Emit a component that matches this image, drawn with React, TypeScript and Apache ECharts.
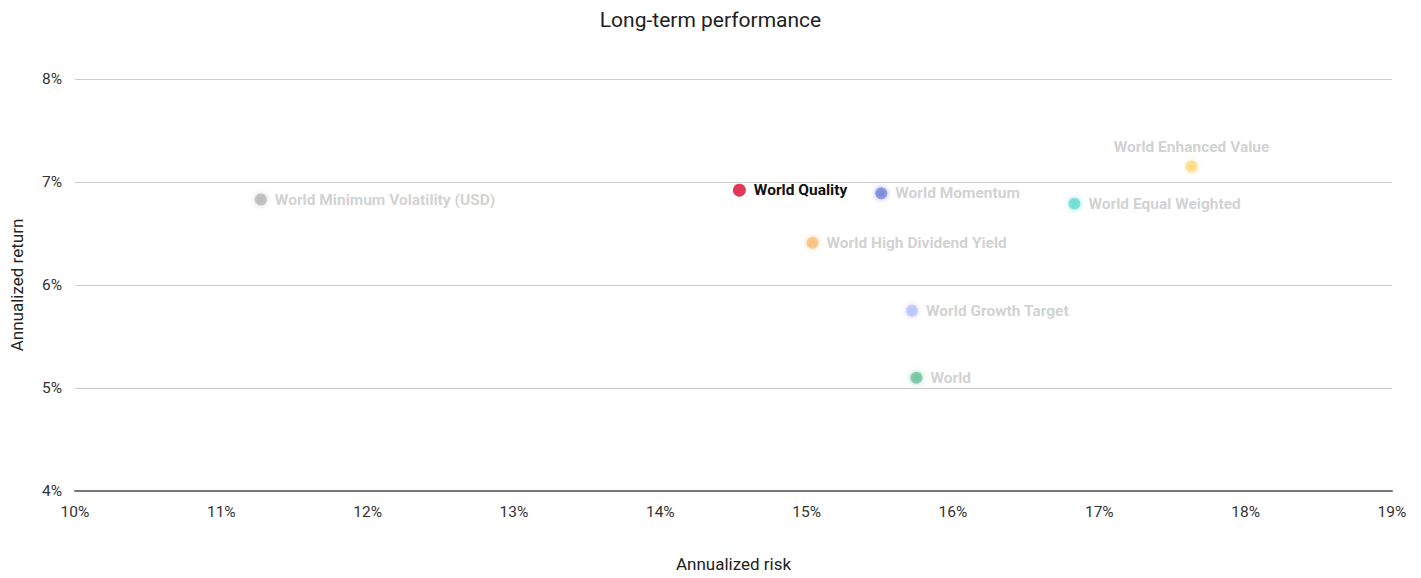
import React, { useEffect, useRef } from "react";
import * as echarts from "echarts";

// Index names, annualized risk (%) and annualized return (%)
const names = [
  "World Minimum Volatility (USD)",
  "World Quality",
  "World Momentum",
  "World Equal Weighted",
  "World Enhanced Value",
  "World High Dividend Yield",
  "World Growth Target",
  "World",
];
const risk = [11.27, 14.54, 15.51, 16.83, 17.63, 15.04, 15.72, 15.75];
const ret = [6.83, 6.92, 6.89, 6.79, 7.15, 6.41, 5.75, 5.10];
const colors = [
  "#a8a8a8",
  "#e2395a",
  "#5a6cd0",
  "#48d6c8",
  "#ffd36a",
  "#f7b05c",
  "#a7b4ff",
  "#4fb586",
];
const highlighted = "World Quality";
const labelAbove = ["World Enhanced Value"];

const xTicks = [10, 11, 12, 13, 14, 15, 16, 17, 18, 19];
const yTicks = [4, 5, 6, 7, 8];

export default function App() {
  const ref = useRef<HTMLDivElement>(null);

  useEffect(() => {
    document.body.style.margin = "0";
    if (!ref.current) return;
    const chart = echarts.init(ref.current, undefined, { renderer: "svg" });

    const data = names.map((name, i) => {
      const active = name === highlighted;
      const above = labelAbove.includes(name);
      return {
        name,
        value: [risk[i], ret[i]],
        symbolSize: active ? 13 : 12,
        itemStyle: {
          color: colors[i],
          opacity: active ? 1 : 0.55,
          shadowBlur: active ? 0 : 5,
          shadowColor: colors[i],
        },
        label: {
          show: true,
          position: above ? "top" : "right",
          distance: above ? 6 : 8,
          formatter: name,
          color: active ? "#111111" : "#ababab",
          fontWeight: "bold",
          fontSize: 15.5,
          fontFamily: "Roboto",
        },
      };
    });

    chart.setOption({
      animation: false,
      textStyle: { fontFamily: "Roboto" },
      title: {
        text: "Long-term performance",
        left: "center",
        top: 4,
        textStyle: {
          fontFamily: "Roboto",
          fontSize: 21,
          fontWeight: "normal",
          color: "#222222",
        },
      },
      grid: { left: 75, right: 29, top: 79, bottom: 87 },
      xAxis: {
        type: "value",
        min: xTicks[0],
        max: xTicks[xTicks.length - 1],
        interval: 1,
        name: "Annualized risk",
        nameLocation: "middle",
        nameGap: 64,
        nameTextStyle: { fontSize: 17, color: "#222222", fontFamily: "Roboto" },
        axisLine: { show: true, lineStyle: { color: "#777777", width: 2 } },
        axisTick: { show: false },
        splitLine: { show: false },
        axisLabel: {
          formatter: "{value}%",
          color: "#333333",
          fontSize: 15.5,
          margin: 13,
          fontFamily: "Roboto",
        },
      },
      yAxis: {
        type: "value",
        min: yTicks[0],
        max: yTicks[yTicks.length - 1],
        interval: 1,
        name: "Annualized return",
        nameLocation: "middle",
        nameGap: 50,
        nameTextStyle: { fontSize: 17, color: "#222222", fontFamily: "Roboto" },
        axisLine: { show: false },
        axisTick: { show: false },
        splitLine: { show: true, lineStyle: { color: "#cccccc", width: 1.2 } },
        axisLabel: {
          formatter: "{value}%",
          color: "#333333",
          fontSize: 15.5,
          margin: 13,
          fontFamily: "Roboto",
        },
      },
      series: [
        {
          type: "scatter",
          data,
          z: 3,
        },
      ],
    });

    return () => chart.dispose();
  }, []);

  return <div ref={ref} style={{ width: 1421, height: 578 }} />;
}
